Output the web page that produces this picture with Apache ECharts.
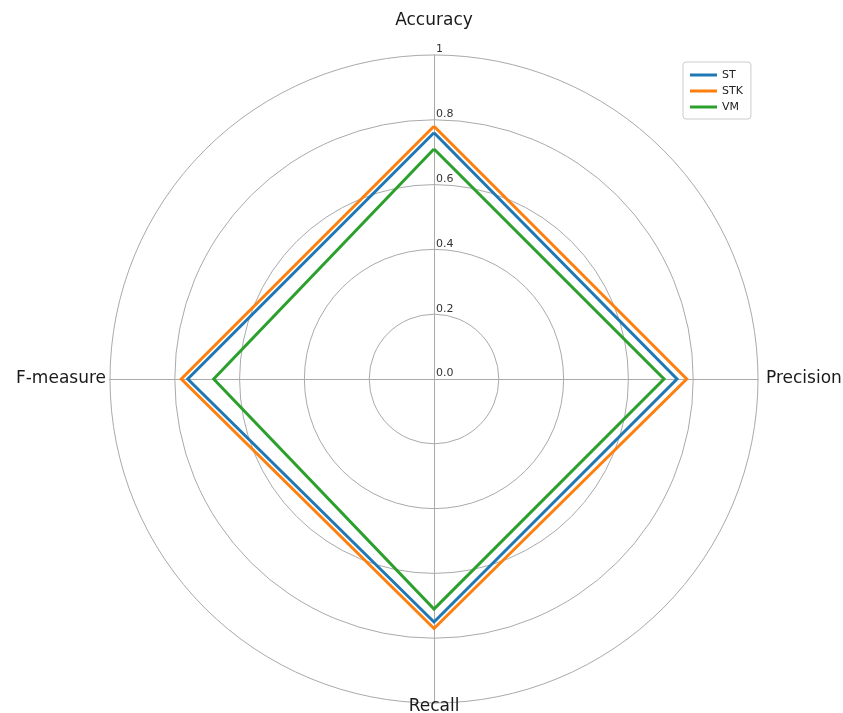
<!DOCTYPE html>
<html>
<head>
<meta charset="utf-8">
<title>Radar: ST / STK / VM</title>
<script src="https://cdn.jsdelivr.net/npm/echarts@6/dist/echarts.min.js"></script>
<style>
  html, body { margin: 0; padding: 0; background: #ffffff; }
  #chart { width: 843px; height: 713px; }
</style>
</head>
<body>
<div id="chart"></div>
<script>
// Metrics in clockwise order starting from the top
const categories = ['Accuracy', 'Precision', 'Recall', 'F-measure'];
const seriesNames = ['ST', 'STK', 'VM'];
const stValues  = [0.76, 0.75, 0.75, 0.76];
const stkValues = [0.78, 0.78, 0.77, 0.78];
const vmValues  = [0.71, 0.71, 0.71, 0.68];
const radialTicks = [0.0, 0.2, 0.4, 0.6, 0.8, 1.0];

const colors = ['#1f77b4', '#ff7f0e', '#2ca02c'];
const font = 'DejaVu Sans';

// ECharts lays radar indicators out counter-clockwise; reorder so that the
// metrics run clockwise (top, right, bottom, left).
const order = [0, 3, 2, 1];
const reorder = arr => order.map(i => arr[i]);

const nameGaps = { 'Accuracy': 26, 'Precision': 8, 'Recall': -5, 'F-measure': 4 };

const indicators = order.map(i => {
  const name = categories[i];
  const ind = { name: name, min: 0, max: 1, nameGap: nameGaps[name] };
  if (i === 0) {
    // radial tick labels sit just right of the vertical spoke, above each ring
    ind.axisLabel = {
      show: true,
      fontFamily: font,
      fontSize: 11,
      color: '#333',
      align: 'left',
      verticalAlign: 'bottom',
      margin: -2,
      formatter: v => (v === 1 ? '1' : v.toFixed(1))
    };
  }
  return ind;
});

const chart = echarts.init(document.getElementById('chart'), null, { renderer: 'canvas' });

chart.setOption({
  backgroundColor: '#ffffff',
  animation: false,
  color: colors,
  legend: {
    orient: 'vertical',
    left: 683,
    top: 62,
    padding: [6, 8, 5, 7],
    itemGap: 2,
    itemWidth: 27,
    itemHeight: 3,
    icon: 'rect',
    borderColor: '#cccccc',
    borderWidth: 1,
    borderRadius: 3,
    textStyle: { fontFamily: font, fontSize: 11, color: '#222', lineHeight: 14 },
    data: seriesNames
  },
  radar: {
    center: [434, 379],
    radius: 324,
    startAngle: 90,
    shape: 'circle',
    splitNumber: radialTicks.length - 1,
    indicator: indicators,
    axisName: { color: '#1a1a1a', fontFamily: font, fontSize: 17 },
    axisLine: { show: true, lineStyle: { color: '#aaaaaa', width: 1 } },
    axisTick: { show: false },
    axisLabel: { show: false },
    splitLine: { show: true, lineStyle: { color: '#aaaaaa', width: 1 } },
    splitArea: { show: false }
  },
  series: [{
    type: 'radar',
    symbol: 'none',
    data: [
      { name: 'ST',  value: reorder(stValues),  lineStyle: { color: colors[0], width: 3, join: 'miter' } },
      { name: 'STK', value: reorder(stkValues), lineStyle: { color: colors[1], width: 3, join: 'miter' } },
      { name: 'VM',  value: reorder(vmValues),  lineStyle: { color: colors[2], width: 3, join: 'miter' } }
    ]
  }]
});
</script>
</body>
</html>
